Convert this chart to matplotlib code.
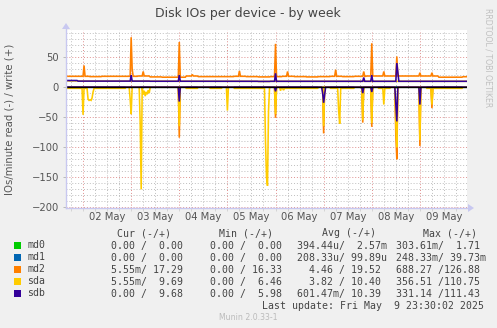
import numpy as np
import pandas as pd
import matplotlib
matplotlib.use("Agg")
import matplotlib.pyplot as plt
import matplotlib.dates as mdates

# ---------------- data ----------------
# 400 samples, 30 min apart, ending 09 May 23:30
END = "2025-05-09 23:30"
N = 400
# baselines held per 6-hour block (34 blocks from 01 May 15:30)
md2_write_base = [18, 18, 17.5, 18, 18, 18, 18.5, 17, 16.5, 16.5, 18.5, 17.5,
                  17.5, 17.5, 18, 17.5, 17, 17.5, 18, 17.5, 17, 17.5, 18, 17.5,
                  18, 18.5, 18.5, 18.5, 18.5, 18.5, 18.5, 16.5, 16.5, 17.3]
sdb_write_base = [11, 10, 10, 10, 10, 10, 10, 9.8, 9.8, 9.8, 9.8, 9.7,
                  9.7, 9.7, 9.7, 9.7, 9.5, 9.7, 9.7, 9.7, 9.7, 9.7, 9.7, 9.7,
                  9.7, 9.7, 9.7, 9.7, 9.7, 9.7, 9.7, 9.7, 9.7, 9.7]
sda_write_base = [10.5, 10, 10, 10, 10, 10, 10, 9.8, 9.8, 9.8, 9.8, 9.7,
                  9.7, 9.7, 9.7, 9.7, 9.5, 9.7, 9.7, 9.7, 9.7, 9.7, 9.7, 9.7,
                  9.7, 9.7, 9.7, 9.7, 9.7, 9.7, 9.7, 9.7, 9.7, 9.7]
sda_read_base = [-2, -2, -2, -2, -2, 0, 0, 0, 0, 0, -2, 0,
                 -2, 0, -2, -2, -2, 0, -2, -2, -2, 0, -2, -2,
                 0, 0, -2, 0, 0, 0, -2, -2, -2, 0]
zero_base = [0] * 34

md2_write_t = ["05-02 00:30", "05-03 00:00", "05-03 00:30", "05-03 06:00", "05-04 00:00",
               "05-04 06:30", "05-05 06:00", "05-06 00:00", "05-06 06:00", "05-07 06:00",
               "05-07 20:00", "05-08 00:00", "05-08 06:00", "05-08 12:30", "05-09 00:00",
               "05-09 06:00"]
md2_write_v = [36, 83, 30, 26, 75, 21, 27, 72, 26, 29, 26, 73, 26, 51, 24, 24]

sdb_write_t = ["05-03 00:00", "05-04 00:00", "05-06 00:00", "05-07 20:00",
               "05-08 00:00", "05-08 12:30", "05-08 13:00"]
sdb_write_v = [20, 20, 23, 16, 20, 40, 25]

sda_read_t = ["05-02 00:00", "05-02 02:30", "05-02 03:00", "05-02 03:30", "05-02 04:00",
              "05-02 04:30", "05-02 05:00", "05-02 23:30", "05-03 00:00", "05-03 04:30",
              "05-03 05:00", "05-03 06:00", "05-03 06:30", "05-03 07:00", "05-03 07:30",
              "05-03 08:00", "05-03 08:30", "05-03 09:00", "05-04 00:00", "05-05 00:00",
              "05-05 19:00", "05-05 19:30", "05-05 20:00", "05-05 20:30", "05-06 00:00",
              "05-06 02:30", "05-06 04:00", "05-07 00:00", "05-07 07:30", "05-07 08:00",
              "05-07 19:30", "05-08 00:00", "05-08 06:00", "05-08 12:00", "05-08 12:30",
              "05-09 00:00", "05-09 06:00"]
sda_read_v = [-46, -20, -22, -21, -22, -18, -8, -20, -45, -60,
              -170, -12, -6, -15, -8, -12, -5, -10, -65, -39,
              -90, -150, -164, -40, -45, -6, -5, -65, -40, -61,
              -55, -60, -29, -60, -100, -88, -29]

md2_read_t = ["05-04 00:00", "05-06 00:00", "05-07 00:00", "05-07 19:30", "05-08 00:00",
              "05-08 12:00", "05-08 12:30", "05-09 00:00", "05-09 06:00"]
md2_read_v = [-84, -51, -77, -59, -66, -80, -120, -98, -35]

sdb_read_t = ["05-04 00:00", "05-06 00:00", "05-06 23:30", "05-07 00:00", "05-07 00:30",
              "05-07 19:30", "05-08 00:00", "05-08 12:00", "05-08 12:30", "05-09 00:00"]
sdb_read_v = [-24, -7, -10, -26, -12, -10, -8, -30, -57, -29]

names = ["md0", "md1", "md2", "sda", "sdb"]
colors = ["#00CC00", "#0066B3", "#FF8000", "#FFCC00", "#330099"]
cur = ["  0.00 /  0.00 ", "  0.00 /  0.00 ", "  5.55m/ 17.29 ", "  5.55m/  9.69 ", "  0.00 /  9.68 "]
mins = ["  0.00 /  0.00 ", "  0.00 /  0.00 ", "  0.00 / 16.33 ", "  0.00 /  6.46 ", "  0.00 /  5.98 "]
avgs = ["394.44u/  2.57m", "208.33u/ 99.89u", "  4.46 / 19.52 ", "  3.82 / 10.40 ", "601.47m/ 10.39 "]
maxs = ["303.61m/  1.71 ", "248.33m/ 39.73m", "688.27 /126.88 ", "356.51 /110.75 ", "331.14 /111.43 "]
col_heads = ["Cur (-/+)", "Min (-/+)", "Avg (-/+)", "Max (-/+)"]
y_ticks = [50, 0, -50, -100, -150, -200]

# ---------------- build series ----------------
times = pd.date_range(end=END, periods=N, freq="30min")
blk = (np.arange(N) + 1) // 12


def build(base, ts=(), vs=()):
    arr = np.asarray(base, dtype=float)[blk].copy()
    for t, v in zip(ts, vs):
        tt = pd.Timestamp("2025-" + t)
        idx = int(np.argmin(np.abs((times - tt).total_seconds())))
        arr[idx] = v
    return arr


series_w = {
    "md0": build(zero_base),
    "md1": build(zero_base),
    "md2": build(md2_write_base, md2_write_t, md2_write_v),
    "sda": build(sda_write_base),
    "sdb": build(sdb_write_base, sdb_write_t, sdb_write_v),
}
series_r = {
    "md0": build(zero_base),
    "md1": build(zero_base),
    "md2": build(zero_base, md2_read_t, md2_read_v),
    "sda": build(sda_read_base, sda_read_t, sda_read_v),
    "sdb": build(zero_base, sdb_read_t, sdb_read_v),
}

# ---------------- figure ----------------
W, H = 497, 328
fig = plt.figure(figsize=(W / 100, H / 100), dpi=100, facecolor="#F0F0F0")
L, R, T, B = 66, 467, 30, 208
ax = fig.add_axes([L / W, 1 - B / H, (R - L) / W, (B - T) / H], facecolor="white")

for nm, c in zip(names, colors):
    ax.plot(times, series_w[nm], color=c, lw=1.15, solid_joinstyle="miter", zorder=3)
    ax.plot(times, series_r[nm], color=c, lw=1.15, solid_joinstyle="miter", zorder=3)
ax.axhline(0, color="black", lw=1.0, zorder=5)

x0 = pd.Timestamp("2025-05-01 15:30")
x1 = pd.Timestamp("2025-05-09 23:30")
ax.set_xlim(x0, x1)
ax.set_ylim(-201, 95)

# grid
ax.yaxis.set_major_locator(matplotlib.ticker.FixedLocator(y_ticks))
ax.yaxis.set_minor_locator(matplotlib.ticker.MultipleLocator(10))
ax.xaxis.set_major_locator(mdates.DayLocator())
ax.xaxis.set_minor_locator(mdates.HourLocator(byhour=[6, 12, 18]))
ax.grid(which="minor", color="#BEBEBE", lw=0.7, ls=(0, (1, 2)), zorder=1)
ax.grid(which="major", color="#E0908F", lw=0.7, ls=(0, (1, 2)), zorder=1)
ax.xaxis.set_major_formatter(matplotlib.ticker.NullFormatter())
ax.tick_params(axis="y", which="major", length=2.5, width=0.6, color="#B0B0B0",
               labelsize=7.2, labelcolor="#555555", pad=2.5)
ax.tick_params(axis="y", which="minor", length=0)
ax.tick_params(axis="x", which="both", length=2, width=0.5, color="#C8C8C8", labelsize=7.2,
               labelcolor="#555555", pad=4)
for s in ax.spines.values():
    s.set_visible(False)

# day labels at noon
for d in range(2, 10):
    tm = pd.Timestamp(f"2025-05-{d:02d} 12:00")
    ax.text(tm, -201 - 4.2 / 0.605 * 1.0, f"{d:02d} May", ha="center", va="top",
            fontsize=7.2, color="#555555", clip_on=False)

# axis lines with arrows
axis_col = "#C8C8F0"
fig.add_artist(matplotlib.lines.Line2D([L / W, (R + 2) / W], [1 - B / H, 1 - B / H],
                                       color=axis_col, lw=1.0))
fig.add_artist(matplotlib.lines.Line2D([L / W, L / W], [1 - B / H, 1 - (T - 1) / H],
                                       color=axis_col, lw=1.0))
fig.add_artist(matplotlib.patches.Polygon(
    [[(R + 1) / W, 1 - (B - 4) / H], [(R + 1) / W, 1 - (B + 4) / H], [(R + 7) / W, 1 - B / H]],
    closed=True, color=axis_col, lw=0))
fig.add_artist(matplotlib.patches.Polygon(
    [[(L - 4) / W, 1 - (T - 1) / H], [(L + 4) / W, 1 - (T - 1) / H], [L / W, 1 - (T - 7) / H]],
    closed=True, color=axis_col, lw=0))

# texts
fig.text(248 / W, 1 - 13 / H, "Disk IOs per device - by week", ha="center", va="center",
         fontsize=9, color="#444444")
fig.text(10 / W, 1 - 119 / H, "IOs/minute read (-) / write (+)", rotation=90,
         ha="center", va="center", fontsize=7.3, color="#555555")
fig.text(488 / W, 1 - 58 / H, "RRDTOOL / TOBI OETIKER", rotation=270, ha="center",
         va="center", fontsize=5.6, color="#C0C0C0")

mono = dict(family="DejaVu Sans Mono", fontsize=7.1, color="#444444", va="center")
head_x = [117, 219, 322, 423]
for hx, h in zip(head_x, col_heads):
    fig.text(hx / W, 1 - 233 / H, h, ha="left", **mono)
col_x = [99, 198, 297, 396]
row_y = [245.5, 257.5, 269.5, 281.5, 293.5]
for i, nm in enumerate(names):
    y = 1 - row_y[i] / H
    fig.add_artist(matplotlib.patches.Rectangle((14 / W, y - 3.2 / H), 6.5 / W, 6.5 / H,
                                                color=colors[i], lw=0))
    fig.text(27 / W, y, nm, ha="left", **mono)
    for cx, vals in zip(col_x, [cur, mins, avgs, maxs]):
        fig.text(cx / W, y, vals[i], ha="left", **mono)
fig.text(262 / W, 1 - 306 / H, "Last update: Fri May  9 23:30:02 2025", ha="left", **mono)
fig.text(248 / W, 1 - 317 / H, "Munin 2.0.33-1", ha="center", va="center", fontsize=5.6,
         color="#BBBBBB")

fig.savefig("out.png", dpi=100, facecolor=fig.get_facecolor())
